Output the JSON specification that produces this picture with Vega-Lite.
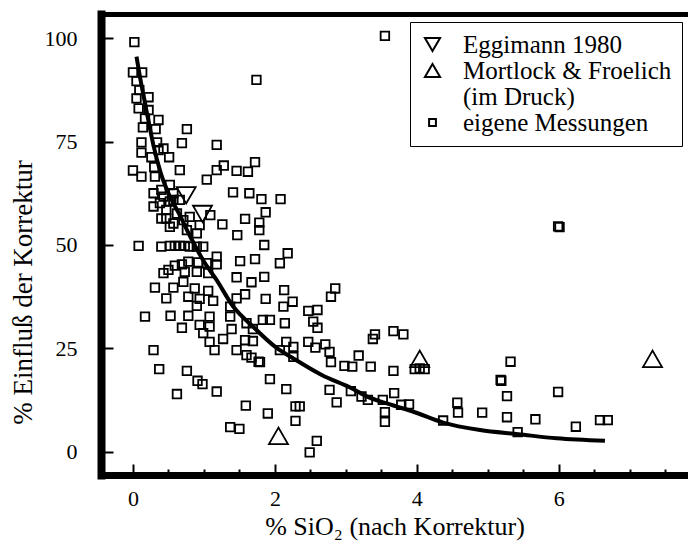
{
  "$schema": "https://vega.github.io/schema/vega-lite/v6.json",
  "width": 587,
  "height": 461,
  "autosize": "none",
  "padding": {"left": 101, "top": 14, "right": 0, "bottom": 80},
  "background": "white",
  "config": {
    "view": {"stroke": null},
    "font": "'Liberation Serif', 'DejaVu Serif', serif",
    "axis": {"grid": false, "domainColor": "black", "tickColor": "black", "labelColor": "black", "titleColor": "black", "labelFont": "'Liberation Serif', 'DejaVu Serif', serif", "titleFont": "'Liberation Serif', 'DejaVu Serif', serif", "titleFontWeight": "normal"},
    "legend": {"labelFont": "'Liberation Serif', 'DejaVu Serif', serif"}
  },
  "datasets": {
    "points": [
      {"sio2": 0.75, "einfluss": 62, "serie": "Eggimann 1980"},
      {"sio2": 0.98, "einfluss": 57.5, "serie": "Eggimann 1980"},
      {"sio2": 2.05, "einfluss": 3.9, "serie": "Mortlock & Froelich"},
      {"sio2": 4.04, "einfluss": 22.5, "serie": "Mortlock & Froelich"},
      {"sio2": 7.32, "einfluss": 22.5, "serie": "Mortlock & Froelich"},
      {"sio2": 0.02, "einfluss": 99, "serie": "eigene Messungen"},
      {"sio2": 0.0, "einfluss": 91.7, "serie": "eigene Messungen"},
      {"sio2": 0.13, "einfluss": 91.7, "serie": "eigene Messungen"},
      {"sio2": 0.05, "einfluss": 89.6, "serie": "eigene Messungen"},
      {"sio2": 0.09, "einfluss": 87.4, "serie": "eigene Messungen"},
      {"sio2": 0.05, "einfluss": 85.4, "serie": "eigene Messungen"},
      {"sio2": 0.22, "einfluss": 85.7, "serie": "eigene Messungen"},
      {"sio2": 0.08, "einfluss": 83, "serie": "eigene Messungen"},
      {"sio2": 0.22, "einfluss": 82.6, "serie": "eigene Messungen"},
      {"sio2": 0.17, "einfluss": 80.6, "serie": "eigene Messungen"},
      {"sio2": 0.36, "einfluss": 80.2, "serie": "eigene Messungen"},
      {"sio2": 0.14, "einfluss": 78.4, "serie": "eigene Messungen"},
      {"sio2": 0.32, "einfluss": 78, "serie": "eigene Messungen"},
      {"sio2": 0.76, "einfluss": 78, "serie": "eigene Messungen"},
      {"sio2": 0.12, "einfluss": 74.8, "serie": "eigene Messungen"},
      {"sio2": 0.34, "einfluss": 74.8, "serie": "eigene Messungen"},
      {"sio2": 0.69, "einfluss": 74.6, "serie": "eigene Messungen"},
      {"sio2": 1.18, "einfluss": 74.2, "serie": "eigene Messungen"},
      {"sio2": 0.12, "einfluss": 72.3, "serie": "eigene Messungen"},
      {"sio2": 0.43, "einfluss": 73.3, "serie": "eigene Messungen"},
      {"sio2": 0.26, "einfluss": 71.2, "serie": "eigene Messungen"},
      {"sio2": 0.51, "einfluss": 71.2, "serie": "eigene Messungen"},
      {"sio2": 0.36, "einfluss": 72.9, "serie": "eigene Messungen"},
      {"sio2": 0.0, "einfluss": 68, "serie": "eigene Messungen"},
      {"sio2": 0.12, "einfluss": 66.5, "serie": "eigene Messungen"},
      {"sio2": 0.30, "einfluss": 68.8, "serie": "eigene Messungen"},
      {"sio2": 0.66, "einfluss": 68.1, "serie": "eigene Messungen"},
      {"sio2": 1.18, "einfluss": 68.1, "serie": "eigene Messungen"},
      {"sio2": 1.28, "einfluss": 69.2, "serie": "eigene Messungen"},
      {"sio2": 1.46, "einfluss": 67.9, "serie": "eigene Messungen"},
      {"sio2": 1.62, "einfluss": 67.7, "serie": "eigene Messungen"},
      {"sio2": 1.72, "einfluss": 70, "serie": "eigene Messungen"},
      {"sio2": 1.74, "einfluss": 89.9, "serie": "eigene Messungen"},
      {"sio2": 1.04, "einfluss": 65.8, "serie": "eigene Messungen"},
      {"sio2": 3.55, "einfluss": 100.5, "serie": "eigene Messungen"},
      {"sio2": 1.41, "einfluss": 62.7, "serie": "eigene Messungen"},
      {"sio2": 1.64, "einfluss": 62.5, "serie": "eigene Messungen"},
      {"sio2": 1.81, "einfluss": 61.1, "serie": "eigene Messungen"},
      {"sio2": 2.08, "einfluss": 61.1, "serie": "eigene Messungen"},
      {"sio2": 1.87, "einfluss": 57.9, "serie": "eigene Messungen"},
      {"sio2": 1.58, "einfluss": 56.3, "serie": "eigene Messungen"},
      {"sio2": 1.78, "einfluss": 55.4, "serie": "eigene Messungen"},
      {"sio2": 1.26, "einfluss": 55, "serie": "eigene Messungen"},
      {"sio2": 1.78, "einfluss": 53.6, "serie": "eigene Messungen"},
      {"sio2": 1.47, "einfluss": 52.4, "serie": "eigene Messungen"},
      {"sio2": 1.85, "einfluss": 50, "serie": "eigene Messungen"},
      {"sio2": 1.09, "einfluss": 57.2, "serie": "eigene Messungen"},
      {"sio2": 0.31, "einfluss": 66.5, "serie": "eigene Messungen"},
      {"sio2": 0.52, "einfluss": 64.5, "serie": "eigene Messungen"},
      {"sio2": 0.29, "einfluss": 62.5, "serie": "eigene Messungen"},
      {"sio2": 0.43, "einfluss": 61.7, "serie": "eigene Messungen"},
      {"sio2": 0.38, "einfluss": 60.1, "serie": "eigene Messungen"},
      {"sio2": 0.29, "einfluss": 59.3, "serie": "eigene Messungen"},
      {"sio2": 0.57, "einfluss": 60.9, "serie": "eigene Messungen"},
      {"sio2": 0.47, "einfluss": 58.5, "serie": "eigene Messungen"},
      {"sio2": 0.62, "einfluss": 57.6, "serie": "eigene Messungen"},
      {"sio2": 0.40, "einfluss": 56.4, "serie": "eigene Messungen"},
      {"sio2": 0.52, "einfluss": 54.4, "serie": "eigene Messungen"},
      {"sio2": 0.71, "einfluss": 56, "serie": "eigene Messungen"},
      {"sio2": 0.80, "einfluss": 56.8, "serie": "eigene Messungen"},
      {"sio2": 0.76, "einfluss": 53.6, "serie": "eigene Messungen"},
      {"sio2": 0.90, "einfluss": 52.8, "serie": "eigene Messungen"},
      {"sio2": 0.08, "einfluss": 49.8, "serie": "eigene Messungen"},
      {"sio2": 0.40, "einfluss": 49.6, "serie": "eigene Messungen"},
      {"sio2": 0.52, "einfluss": 49.8, "serie": "eigene Messungen"},
      {"sio2": 0.59, "einfluss": 49.8, "serie": "eigene Messungen"},
      {"sio2": 0.66, "einfluss": 49.8, "serie": "eigene Messungen"},
      {"sio2": 0.73, "einfluss": 49.8, "serie": "eigene Messungen"},
      {"sio2": 0.80, "einfluss": 49.6, "serie": "eigene Messungen"},
      {"sio2": 0.99, "einfluss": 49.6, "serie": "eigene Messungen"},
      {"sio2": 0.40, "einfluss": 63.3, "serie": "eigene Messungen"},
      {"sio2": 0.57, "einfluss": 62.5, "serie": "eigene Messungen"},
      {"sio2": 0.52, "einfluss": 60.5, "serie": "eigene Messungen"},
      {"sio2": 0.66, "einfluss": 60.9, "serie": "eigene Messungen"},
      {"sio2": 0.47, "einfluss": 56.4, "serie": "eigene Messungen"},
      {"sio2": 0.57, "einfluss": 55.2, "serie": "eigene Messungen"},
      {"sio2": 0.94, "einfluss": 54.8, "serie": "eigene Messungen"},
      {"sio2": 0.90, "einfluss": 49.6, "serie": "eigene Messungen"},
      {"sio2": 1.18, "einfluss": 47.2, "serie": "eigene Messungen"},
      {"sio2": 1.18, "einfluss": 45.3, "serie": "eigene Messungen"},
      {"sio2": 1.51, "einfluss": 46.1, "serie": "eigene Messungen"},
      {"sio2": 1.72, "einfluss": 46.6, "serie": "eigene Messungen"},
      {"sio2": 0.43, "einfluss": 43.2, "serie": "eigene Messungen"},
      {"sio2": 0.50, "einfluss": 44, "serie": "eigene Messungen"},
      {"sio2": 0.59, "einfluss": 45, "serie": "eigene Messungen"},
      {"sio2": 0.69, "einfluss": 45.3, "serie": "eigene Messungen"},
      {"sio2": 0.78, "einfluss": 46, "serie": "eigene Messungen"},
      {"sio2": 0.92, "einfluss": 45.8, "serie": "eigene Messungen"},
      {"sio2": 1.04, "einfluss": 45.6, "serie": "eigene Messungen"},
      {"sio2": 0.73, "einfluss": 43.5, "serie": "eigene Messungen"},
      {"sio2": 0.90, "einfluss": 43.5, "serie": "eigene Messungen"},
      {"sio2": 1.06, "einfluss": 43.2, "serie": "eigene Messungen"},
      {"sio2": 1.46, "einfluss": 42.2, "serie": "eigene Messungen"},
      {"sio2": 1.67, "einfluss": 41, "serie": "eigene Messungen"},
      {"sio2": 0.31, "einfluss": 39.7, "serie": "eigene Messungen"},
      {"sio2": 0.57, "einfluss": 39.7, "serie": "eigene Messungen"},
      {"sio2": 0.71, "einfluss": 41.1, "serie": "eigene Messungen"},
      {"sio2": 0.87, "einfluss": 39.5, "serie": "eigene Messungen"},
      {"sio2": 1.06, "einfluss": 38.9, "serie": "eigene Messungen"},
      {"sio2": 0.47, "einfluss": 37.1, "serie": "eigene Messungen"},
      {"sio2": 0.78, "einfluss": 37.5, "serie": "eigene Messungen"},
      {"sio2": 0.94, "einfluss": 37, "serie": "eigene Messungen"},
      {"sio2": 1.13, "einfluss": 36.5, "serie": "eigene Messungen"},
      {"sio2": 0.90, "einfluss": 35.3, "serie": "eigene Messungen"},
      {"sio2": 1.46, "einfluss": 37.1, "serie": "eigene Messungen"},
      {"sio2": 1.58, "einfluss": 38.1, "serie": "eigene Messungen"},
      {"sio2": 1.37, "einfluss": 35.1, "serie": "eigene Messungen"},
      {"sio2": 0.17, "einfluss": 32.7, "serie": "eigene Messungen"},
      {"sio2": 0.53, "einfluss": 32.9, "serie": "eigene Messungen"},
      {"sio2": 0.78, "einfluss": 32.9, "serie": "eigene Messungen"},
      {"sio2": 1.08, "einfluss": 32.7, "serie": "eigene Messungen"},
      {"sio2": 1.37, "einfluss": 32.7, "serie": "eigene Messungen"},
      {"sio2": 0.69, "einfluss": 30, "serie": "eigene Messungen"},
      {"sio2": 0.94, "einfluss": 30.7, "serie": "eigene Messungen"},
      {"sio2": 1.08, "einfluss": 30.3, "serie": "eigene Messungen"},
      {"sio2": 1.39, "einfluss": 29.7, "serie": "eigene Messungen"},
      {"sio2": 1.60, "einfluss": 31.1, "serie": "eigene Messungen"},
      {"sio2": 1.69, "einfluss": 29.7, "serie": "eigene Messungen"},
      {"sio2": 0.99, "einfluss": 28.7, "serie": "eigene Messungen"},
      {"sio2": 1.08, "einfluss": 26.6, "serie": "eigene Messungen"},
      {"sio2": 1.27, "einfluss": 27.3, "serie": "eigene Messungen"},
      {"sio2": 1.15, "einfluss": 24.6, "serie": "eigene Messungen"},
      {"sio2": 1.58, "einfluss": 27, "serie": "eigene Messungen"},
      {"sio2": 1.69, "einfluss": 26.8, "serie": "eigene Messungen"},
      {"sio2": 1.46, "einfluss": 24.6, "serie": "eigene Messungen"},
      {"sio2": 1.60, "einfluss": 23.4, "serie": "eigene Messungen"},
      {"sio2": 1.67, "einfluss": 22.8, "serie": "eigene Messungen"},
      {"sio2": 1.77, "einfluss": 21.8, "serie": "eigene Messungen"},
      {"sio2": 0.29, "einfluss": 24.6, "serie": "eigene Messungen"},
      {"sio2": 0.37, "einfluss": 20, "serie": "eigene Messungen"},
      {"sio2": 0.76, "einfluss": 19.6, "serie": "eigene Messungen"},
      {"sio2": 0.91, "einfluss": 17.2, "serie": "eigene Messungen"},
      {"sio2": 0.98, "einfluss": 16.4, "serie": "eigene Messungen"},
      {"sio2": 0.62, "einfluss": 14, "serie": "eigene Messungen"},
      {"sio2": 1.18, "einfluss": 14.6, "serie": "eigene Messungen"},
      {"sio2": 1.59, "einfluss": 11.2, "serie": "eigene Messungen"},
      {"sio2": 1.37, "einfluss": 6, "serie": "eigene Messungen"},
      {"sio2": 1.50, "einfluss": 5.6, "serie": "eigene Messungen"},
      {"sio2": 2.18, "einfluss": 48, "serie": "eigene Messungen"},
      {"sio2": 2.07, "einfluss": 45.6, "serie": "eigene Messungen"},
      {"sio2": 1.85, "einfluss": 42.3, "serie": "eigene Messungen"},
      {"sio2": 2.13, "einfluss": 39.1, "serie": "eigene Messungen"},
      {"sio2": 1.87, "einfluss": 37, "serie": "eigene Messungen"},
      {"sio2": 2.12, "einfluss": 35.1, "serie": "eigene Messungen"},
      {"sio2": 2.25, "einfluss": 36.3, "serie": "eigene Messungen"},
      {"sio2": 2.47, "einfluss": 34.1, "serie": "eigene Messungen"},
      {"sio2": 2.60, "einfluss": 34.3, "serie": "eigene Messungen"},
      {"sio2": 2.79, "einfluss": 37.5, "serie": "eigene Messungen"},
      {"sio2": 2.85, "einfluss": 39.5, "serie": "eigene Messungen"},
      {"sio2": 1.83, "einfluss": 31.9, "serie": "eigene Messungen"},
      {"sio2": 1.93, "einfluss": 31.9, "serie": "eigene Messungen"},
      {"sio2": 2.14, "einfluss": 31.1, "serie": "eigene Messungen"},
      {"sio2": 2.54, "einfluss": 31.5, "serie": "eigene Messungen"},
      {"sio2": 2.60, "einfluss": 30, "serie": "eigene Messungen"},
      {"sio2": 3.41, "einfluss": 28.4, "serie": "eigene Messungen"},
      {"sio2": 3.67, "einfluss": 29.2, "serie": "eigene Messungen"},
      {"sio2": 3.81, "einfluss": 28.4, "serie": "eigene Messungen"},
      {"sio2": 2.16, "einfluss": 26.6, "serie": "eigene Messungen"},
      {"sio2": 2.26, "einfluss": 25.4, "serie": "eigene Messungen"},
      {"sio2": 2.07, "einfluss": 24.6, "serie": "eigene Messungen"},
      {"sio2": 2.47, "einfluss": 26.6, "serie": "eigene Messungen"},
      {"sio2": 2.57, "einfluss": 25.2, "serie": "eigene Messungen"},
      {"sio2": 2.71, "einfluss": 26, "serie": "eigene Messungen"},
      {"sio2": 2.77, "einfluss": 24.2, "serie": "eigene Messungen"},
      {"sio2": 2.79, "einfluss": 21.7, "serie": "eigene Messungen"},
      {"sio2": 2.26, "einfluss": 23, "serie": "eigene Messungen"},
      {"sio2": 1.79, "einfluss": 21.7, "serie": "eigene Messungen"},
      {"sio2": 3.38, "einfluss": 27.3, "serie": "eigene Messungen"},
      {"sio2": 3.18, "einfluss": 23.3, "serie": "eigene Messungen"},
      {"sio2": 2.98, "einfluss": 20.8, "serie": "eigene Messungen"},
      {"sio2": 3.09, "einfluss": 20.6, "serie": "eigene Messungen"},
      {"sio2": 3.35, "einfluss": 20.6, "serie": "eigene Messungen"},
      {"sio2": 3.67, "einfluss": 19.6, "serie": "eigene Messungen"},
      {"sio2": 1.93, "einfluss": 17.6, "serie": "eigene Messungen"},
      {"sio2": 2.16, "einfluss": 15.2, "serie": "eigene Messungen"},
      {"sio2": 2.77, "einfluss": 15, "serie": "eigene Messungen"},
      {"sio2": 3.07, "einfluss": 14.7, "serie": "eigene Messungen"},
      {"sio2": 2.87, "einfluss": 12, "serie": "eigene Messungen"},
      {"sio2": 3.22, "einfluss": 13.4, "serie": "eigene Messungen"},
      {"sio2": 3.31, "einfluss": 12.6, "serie": "eigene Messungen"},
      {"sio2": 3.52, "einfluss": 12.6, "serie": "eigene Messungen"},
      {"sio2": 3.68, "einfluss": 14.2, "serie": "eigene Messungen"},
      {"sio2": 3.78, "einfluss": 11.4, "serie": "eigene Messungen"},
      {"sio2": 3.89, "einfluss": 11.5, "serie": "eigene Messungen"},
      {"sio2": 2.29, "einfluss": 11, "serie": "eigene Messungen"},
      {"sio2": 2.35, "einfluss": 11, "serie": "eigene Messungen"},
      {"sio2": 1.90, "einfluss": 9.3, "serie": "eigene Messungen"},
      {"sio2": 2.29, "einfluss": 7.5, "serie": "eigene Messungen"},
      {"sio2": 3.55, "einfluss": 9.6, "serie": "eigene Messungen"},
      {"sio2": 3.55, "einfluss": 7.3, "serie": "eigene Messungen"},
      {"sio2": 2.59, "einfluss": 2.7, "serie": "eigene Messungen"},
      {"sio2": 2.49, "einfluss": -0.1, "serie": "eigene Messungen"},
      {"sio2": 3.97, "einfluss": 20, "serie": "eigene Messungen"},
      {"sio2": 4.04, "einfluss": 20.2, "serie": "eigene Messungen"},
      {"sio2": 4.11, "einfluss": 20, "serie": "eigene Messungen"},
      {"sio2": 4.37, "einfluss": 7.6, "serie": "eigene Messungen"},
      {"sio2": 4.57, "einfluss": 11.9, "serie": "eigene Messungen"},
      {"sio2": 4.58, "einfluss": 9.5, "serie": "eigene Messungen"},
      {"sio2": 4.92, "einfluss": 9.5, "serie": "eigene Messungen"},
      {"sio2": 5.32, "einfluss": 21.8, "serie": "eigene Messungen"},
      {"sio2": 5.18, "einfluss": 17.4, "serie": "eigene Messungen"},
      {"sio2": 5.19, "einfluss": 17.2, "serie": "eigene Messungen"},
      {"sio2": 5.27, "einfluss": 13.5, "serie": "eigene Messungen"},
      {"sio2": 5.27, "einfluss": 8.4, "serie": "eigene Messungen"},
      {"sio2": 5.42, "einfluss": 4.8, "serie": "eigene Messungen"},
      {"sio2": 5.67, "einfluss": 7.9, "serie": "eigene Messungen"},
      {"sio2": 5.99, "einfluss": 14.5, "serie": "eigene Messungen"},
      {"sio2": 6.24, "einfluss": 6.1, "serie": "eigene Messungen"},
      {"sio2": 6.58, "einfluss": 7.7, "serie": "eigene Messungen"},
      {"sio2": 6.69, "einfluss": 7.7, "serie": "eigene Messungen"},
      {"sio2": 5.99, "einfluss": 54.5, "serie": "eigene Messungen"},
      {"sio2": 6.01, "einfluss": 54.3, "serie": "eigene Messungen"}
    ],
    "curve": [
      {"sio2": 0.05, "einfluss": 95.5},
      {"sio2": 0.1, "einfluss": 90.5},
      {"sio2": 0.17, "einfluss": 84.3},
      {"sio2": 0.23, "einfluss": 79},
      {"sio2": 0.29, "einfluss": 74},
      {"sio2": 0.39, "einfluss": 67.5},
      {"sio2": 0.5, "einfluss": 62.5},
      {"sio2": 0.66, "einfluss": 57.2},
      {"sio2": 0.8, "einfluss": 52.3},
      {"sio2": 1.0, "einfluss": 46},
      {"sio2": 1.18, "einfluss": 41.5},
      {"sio2": 1.41, "einfluss": 35.2},
      {"sio2": 1.69, "einfluss": 30.3},
      {"sio2": 2.02, "einfluss": 25.2},
      {"sio2": 2.26, "einfluss": 22.6},
      {"sio2": 2.66, "einfluss": 18.6},
      {"sio2": 3.08, "einfluss": 15.4},
      {"sio2": 3.31, "einfluss": 13.3},
      {"sio2": 3.6, "einfluss": 11.6},
      {"sio2": 3.97, "einfluss": 9.6},
      {"sio2": 4.37, "einfluss": 7.1},
      {"sio2": 4.89, "einfluss": 5.3},
      {"sio2": 5.43, "einfluss": 4.3},
      {"sio2": 5.97, "einfluss": 3.3},
      {"sio2": 6.65, "einfluss": 2.7}
    ]
  },
  "layer": [
    {
      "data": {"name": "points"},
      "mark": {"type": "point", "filled": false, "color": "black", "strokeWidth": 1.8, "size": 360, "opacity": 1},
      "encoding": {
        "x": {
          "field": "sio2", "type": "quantitative",
          "scale": {"domain": [-0.45, 7.82], "nice": false, "zero": false},
          "axis": {
            "orient": "bottom",
            "values": [0, 0.5, 1, 1.5, 2, 2.5, 3, 3.5, 4, 4.5, 5, 5.5, 6, 6.5, 7, 7.5],
            "labelExpr": "datum.value % 2 === 0 ? '' + datum.value : ''",
            "tickSize": {"condition": {"test": "datum.value % 2 === 0", "value": -11}, "value": -6},
            "tickWidth": 2,
            "domainWidth": 7,
            "domainCap": "square",
            "labelPadding": 24,
            "labelFontSize": 22,
            "labelBaseline": "top",
            "labelFlush": false,
            "title": "% SiO₂ (nach Korrektur)",
            "titleFontSize": 26,
            "titleBaseline": "middle",
            "titleY": 51
          }
        },
        "y": {
          "field": "einfluss", "type": "quantitative",
          "scale": {"domain": [-5.56, 105.8], "nice": false, "zero": false},
          "axis": {
            "values": [0, 25, 50, 75, 100],
            "tickSize": -12,
            "tickWidth": 2,
            "domainWidth": 8,
            "domainCap": "square",
            "labelPadding": 36,
            "labelFontSize": 22,
            "labelBaseline": "middle",
            "title": "% Einfluß der Korrektur",
            "titleFontSize": 27,
            "titleAngle": -90,
            "titleAlign": "center",
            "titleBaseline": "middle",
            "titleX": -78,
            "titleY": 278
          }
        },
        "shape": {
          "field": "serie", "type": "nominal",
          "scale": {
            "domain": ["Eggimann 1980", "Mortlock & Froelich", "(im Druck)", "eigene Messungen"],
            "range": ["triangle-down", "triangle-up", "M0,0", "M-0.45,-0.45H0.45V0.45H-0.45Z"]
          },
          "legend": {
            "orient": "none",
            "legendX": 309,
            "legendY": 8,
            "title": null,
            "strokeColor": "black",
            "padding": 10,
            "labelFontSize": 25,
            "labelColor": "black",
            "labelLimit": 400,
            "labelOffset": 18,
            "symbolSize": 230,
            "symbolStrokeWidth": 2,
            "symbolStrokeColor": "black",
            "rowPadding": 0
          }
        }
      }
    },
    {
      "data": {"name": "curve"},
      "mark": {"type": "line", "color": "black", "strokeWidth": 4, "interpolate": "monotone"},
      "encoding": {
        "x": {
          "field": "sio2", "type": "quantitative",
          "axis": {"orient": "top", "labels": false, "ticks": false, "title": null, "domainWidth": 5, "domainCap": "square", "grid": false}
        },
        "y": {"field": "einfluss", "type": "quantitative"}
      }
    }
  ],
  "resolve": {"axis": {"x": "independent"}}
}
